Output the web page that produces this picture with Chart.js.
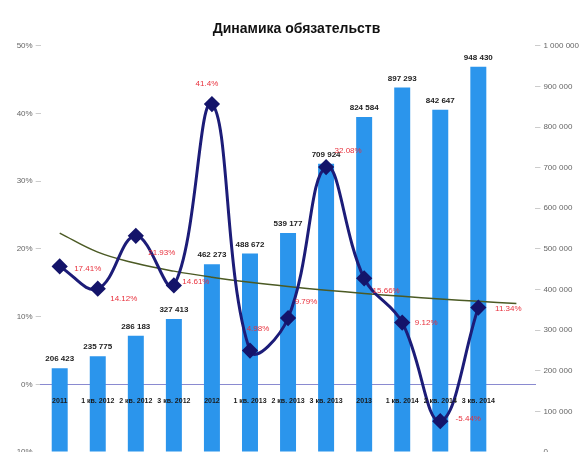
<!DOCTYPE html>
<html>
<head>
<meta charset="utf-8">
<script src="https://cdn.jsdelivr.net/npm/chart.js@4.4.1/dist/chart.umd.min.js"></script>
<style>
  html, body { margin: 0; padding: 0; background: #fff; overflow: hidden; }
  #wrap { width: 582px; height: 452px; overflow: hidden; }
</style>
</head>
<body>
<div id="wrap"><canvas id="chart" width="582" height="470"></canvas></div>
<script>
// data
var categories = ['2011', '1 кв. 2012', '2 кв. 2012', '3 кв. 2012', '2012', '1 кв. 2013',
    '2 кв. 2013', '3 кв. 2013', '2013', '1 кв. 2014', '2 кв. 2014', '3 кв. 2014'];
var liabilities = [206423, 235775, 286183, 327413, 462273, 488672, 539177, 709924, 824584, 897293, 842647, 948430];
var growthPct = [17.41, 14.12, 21.93, 14.61, 41.40, 4.98, 9.79, 32.08, 15.66, 9.12, -5.44, 11.34];
var pctTicks = [-10, 0, 10, 20, 30, 40, 50];
var amountTicks = [0, 100000, 200000, 300000, 400000, 500000, 600000, 700000, 800000, 900000, 1000000];

// label offsets for the red percentages (dx, dy from the marker)
var pctLabelOffset = [[28, 2], [26, 10], [26, 17], [22, -4], [-5, -20], [8, -22],
    [18, -16], [22, -16], [22, 13], [24, 0], [28, -2], [30, 1]];

// logarithmic trend of the percentages, one period forward
var n = growthPct.length;
var lx = growthPct.map(function (v, i) { return Math.log(i + 1); });
var mx = lx.reduce(function (a, b) { return a + b; }, 0) / n;
var my = growthPct.reduce(function (a, b) { return a + b; }, 0) / n;
var sxy = 0, sxx = 0;
for (var i = 0; i < n; i++) {
    sxy += (lx[i] - mx) * (growthPct[i] - my);
    sxx += (lx[i] - mx) * (lx[i] - mx);
}
var slope = sxy / sxx, icept = my - slope * mx;
var trend = [];
for (var k = 0; k <= n; k++) trend.push(icept + slope * Math.log(k + 1));

var labels = categories.concat(['']);

function spaced(v) {
    return String(v).replace(/\B(?=(\d{3})+(?!\d))/g, ' ');
}

var valueLabels = {
    id: 'valueLabels',
    afterDatasetsDraw: function (chart) {
        var ctx = chart.ctx;
        ctx.save();
        // category labels sit on the 0% line, over the bars
        var xs = chart.scales.x, y0 = chart.scales.y.getPixelForValue(0);
        ctx.font = 'bold 7px "Liberation Sans", sans-serif';
        ctx.fillStyle = '#1a1a1a';
        ctx.textAlign = 'center';
        ctx.textBaseline = 'middle';
        categories.forEach(function (c, i) {
            ctx.fillText(c, xs.getPixelForValue(i), y0 + 17);
        });
        var bars = chart.getDatasetMeta(0).data;
        ctx.font = 'bold 8px "Liberation Sans", sans-serif';
        ctx.fillStyle = '#222';
        ctx.textBaseline = 'bottom';
        liabilities.forEach(function (v, i) {
            ctx.fillText(spaced(v), bars[i].x, bars[i].y - 5);
        });
        var pts = chart.getDatasetMeta(2).data;
        ctx.font = '8px "Liberation Sans", sans-serif';
        ctx.fillStyle = '#e8303c';
        ctx.textBaseline = 'middle';
        growthPct.forEach(function (v, i) {
            var o = pctLabelOffset[i];
            ctx.fillText(v.toFixed(2).replace(/0$/, '') + '%', pts[i].x + o[0], pts[i].y + o[1]);
        });
        ctx.restore();
    }
};

new Chart(document.getElementById('chart'), {
    data: {
        labels: labels,
        datasets: [{
            type: 'bar',
            data: liabilities,
            yAxisID: 'y1',
            backgroundColor: '#2b95ec',
            barPercentage: 0.42,
            categoryPercentage: 1,
            order: 3
        }, {
            type: 'line',
            data: trend,
            yAxisID: 'y',
            borderColor: '#4b5a24',
            borderWidth: 1.5,
            pointRadius: 0,
            tension: 0.4,
            order: 2
        }, {
            type: 'line',
            data: growthPct,
            yAxisID: 'y',
            borderColor: '#1c1c78',
            borderWidth: 3,
            tension: 0.4,
            pointStyle: 'rectRot',
            pointRadius: 6,
            pointBackgroundColor: '#14146a',
            pointBorderColor: '#14146a',
            order: 1
        }]
    },
    options: {
        responsive: false,
        animation: false,
        layout: { padding: { left: 11, right: 0, bottom: 18 } },
        plugins: {
            legend: { display: false },
            tooltip: { enabled: false },
            title: {
                display: true,
                text: 'Динамика обязательств',
                color: '#111',
                font: { family: '"Liberation Sans Narrow", "Liberation Sans", sans-serif', size: 14, weight: 'bold' },
                padding: { top: 21, bottom: 8 }
            }
        },
        scales: {
            x: {
                position: { y: 0 },
                grid: { display: false, drawTicks: false },
                border: { color: '#8a8ad0', width: 1 },
                ticks: { display: false }
            },
            y: {
                position: 'left',
                min: pctTicks[0],
                max: pctTicks[pctTicks.length - 1],
                afterBuildTicks: function (s) { s.ticks = pctTicks.map(function (v) { return { value: v }; }); },
                grid: { drawOnChartArea: false, tickLength: 5, color: '#ccc' },
                border: { display: false },
                ticks: {
                    color: '#666',
                    font: { family: '"Liberation Sans", sans-serif', size: 8 },
                    callback: function (v) { return v + '%'; }
                }
            },
            y1: {
                position: 'right',
                min: amountTicks[0],
                max: amountTicks[amountTicks.length - 1],
                afterBuildTicks: function (s) { s.ticks = amountTicks.map(function (v) { return { value: v }; }); },
                grid: { drawOnChartArea: false, tickLength: 5, color: '#ccc' },
                border: { display: false },
                ticks: {
                    color: '#666',
                    font: { family: '"Liberation Sans", sans-serif', size: 8 },
                    callback: function (v) { return spaced(v); }
                }
            }
        }
    },
    plugins: [valueLabels]
});
</script>
</body>
</html>
